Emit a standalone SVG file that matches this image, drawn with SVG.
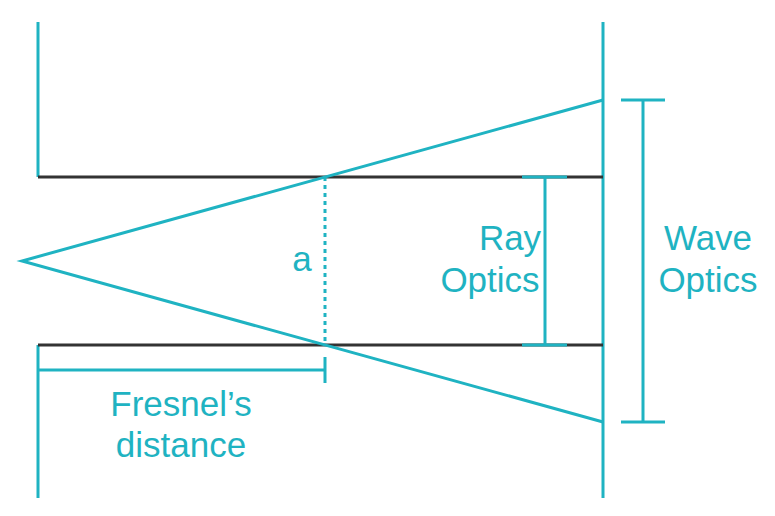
<svg xmlns="http://www.w3.org/2000/svg" width="775" height="516" viewBox="0 0 775 516">
<style>
.t{stroke:#1fb3c2;stroke-width:3;fill:none}
.k{stroke:#333;stroke-width:3;fill:none}
text{font-family:"Liberation Sans",Arial,sans-serif;font-size:35px;fill:#1fb3c2;text-anchor:middle}
</style>
<rect width="775" height="516" fill="#fff"/>
<g id="connectors">
<path class="t" d="M38 22V177M38 345V498M603 22V498"/>
<path class="k" d="M38 177H603M38 345H603"/>
<path class="t" d="M603 100L22 261L603 422"/>
<path class="t" d="M325 177V345" stroke-dasharray="4 4"/>
</g>
<g id="ray-optics"><path class="t" d="M545 177V345M522 177H567M522 345H567"/><text x="510" y="250">Ray</text><text x="490" y="292">Optics</text></g>
<g id="wave-optics"><path class="t" d="M643 100V422M621 100H665M621 422H665"/><text x="708" y="250">Wave</text><text x="708" y="292">Optics</text></g>
<g id="fresnel"><path class="t" d="M38 370H325M325 357V383"/><text x="181" y="416">Fresnel’s</text><text x="181" y="457">distance</text></g>
<g id="a"><text x="302" y="271">a</text></g>
</svg>
